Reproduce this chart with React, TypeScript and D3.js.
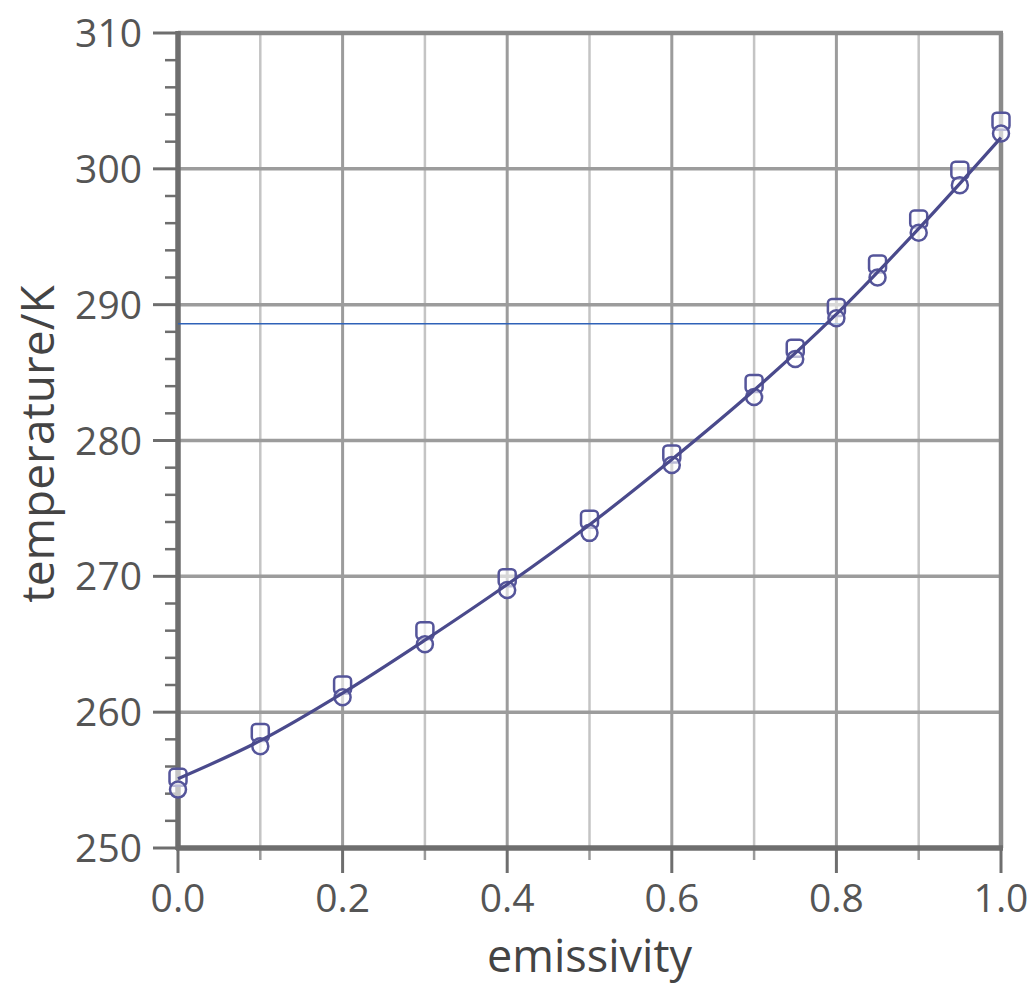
import * as d3 from "d3";

// emissivity values at which the two marker series were sampled
const EMISSIVITY = [0, 0.1, 0.2, 0.3, 0.4, 0.5, 0.6, 0.7, 0.75, 0.8, 0.85, 0.9, 0.95, 1.0];
// upper markers (squares) and lower markers (circles), K
const SQUARE_T = [255.2, 258.5, 262.0, 266.0, 269.9, 274.2, 279.0, 284.2, 286.8, 289.8, 293.0, 296.3, 299.9, 303.5];
const CIRCLE_T = [254.3, 257.5, 261.1, 265.0, 269.0, 273.2, 278.2, 283.2, 286.0, 289.0, 292.0, 295.3, 298.8, 302.6];
// fitted curve
const CURVE_E = [0, 0.1, 0.2, 0.3, 0.4, 0.5, 0.6, 0.7, 0.8, 0.9, 1.0];
const CURVE_T = [255.1, 257.9, 261.4, 265.3, 269.4, 273.8, 278.6, 283.7, 289.3, 295.6, 302.3];
// thin blue reference line
const REF_T = 288.6;
const REF_E_END = 0.805;

const X_MAJOR = [0, 0.2, 0.4, 0.6, 0.8, 1.0];
const X_MINOR = [0.1, 0.3, 0.5, 0.7, 0.9];
const Y_MAJOR = [250, 260, 270, 280, 290, 300, 310];

const W = 1036;
const H = 985;
const M = { left: 178, right: 1001, top: 33, bottom: 848 };

const FONT = "'Open Sans', 'DejaVu Sans', sans-serif";
const GRID = "#9c9c9c";
const GRID_LIGHT = "#c4c4c4";
const AXIS = "#6e6e6e";
const MARK = "#55559a";

export default function App() {
  const x = d3.scaleLinear().domain([0, 1]).range([M.left, M.right]);
  const y = d3.scaleLinear().domain([250, 310]).range([M.bottom, M.top]);
  const yMinor = d3.range(252, 310, 2).filter((v) => v % 10 !== 0);

  const line = d3
    .line<number>()
    .x((_, i) => x(CURVE_E[i]))
    .y((d) => y(d))
    .curve(d3.curveCatmullRom.alpha(0.5));

  const sq = 17;
  const r = 8;

  return (
    <svg
      width={W}
      height={H}
      style={{ position: "absolute", left: 0, top: 0, background: "#fff" }}
      fontFamily={FONT}
    >
      {/* vertical grid */}
      {X_MINOR.map((v) => (
        <line key={"vm" + v} x1={x(v)} x2={x(v)} y1={M.top} y2={M.bottom} stroke={GRID_LIGHT} strokeWidth={2.5} />
      ))}
      {X_MAJOR.slice(1, -1).map((v) => (
        <line key={"vM" + v} x1={x(v)} x2={x(v)} y1={M.top} y2={M.bottom} stroke={GRID} strokeWidth={3} />
      ))}
      {/* horizontal grid */}
      {Y_MAJOR.slice(1, -1).map((v) => (
        <line key={"h" + v} x1={M.left} x2={M.right} y1={y(v)} y2={y(v)} stroke={GRID} strokeWidth={3.5} />
      ))}
      {/* frame top & right */}
      <line x1={M.left} x2={M.right + 2} y1={M.top} y2={M.top} stroke="#8a8a8a" strokeWidth={4.5} />
      <line x1={M.right} x2={M.right} y1={M.top} y2={M.bottom} stroke="#8a8a8a" strokeWidth={4.5} />

      {/* y ticks */}
      {Y_MAJOR.map((v) => (
        <line key={"yt" + v} x1={M.left - 25} x2={M.left} y1={y(v)} y2={y(v)} stroke={AXIS} strokeWidth={3} />
      ))}
      {yMinor.map((v) => (
        <line key={"ym" + v} x1={M.left - 13} x2={M.left} y1={y(v)} y2={y(v)} stroke={AXIS} strokeWidth={2.5} />
      ))}
      {/* x ticks */}
      {X_MAJOR.map((v) => (
        <line key={"xt" + v} x1={x(v)} x2={x(v)} y1={M.bottom} y2={M.bottom + 25} stroke={AXIS} strokeWidth={3} />
      ))}
      {X_MINOR.map((v) => (
        <line key={"xm" + v} x1={x(v)} x2={x(v)} y1={M.bottom} y2={M.bottom + 12} stroke="#9a9a9a" strokeWidth={2.5} />
      ))}

      {/* axes */}
      <line x1={M.left} x2={M.left} y1={M.top - 2} y2={M.bottom + 2} stroke={AXIS} strokeWidth={5.5} />
      <line x1={M.left - 2} x2={M.right + 2} y1={M.bottom} y2={M.bottom} stroke={AXIS} strokeWidth={5.5} />

      {/* tick labels */}
      {Y_MAJOR.map((v) => (
        <text key={"yl" + v} x={M.left - 36} y={y(v)} dy="0.36em" textAnchor="end" fontSize={39} fill="#555">
          {v}
        </text>
      ))}
      {X_MAJOR.map((v) => (
        <text key={"xl" + v} x={x(v)} y={912} textAnchor="middle" fontSize={39} fill="#555">
          {v.toFixed(1)}
        </text>
      ))}

      {/* axis titles */}
      <text x={(M.left + M.right) / 2} y={972} textAnchor="middle" fontSize={45} fill="#444">
        emissivity
      </text>
      <text
        transform={`translate(54,${444}) rotate(-90)`}
        textAnchor="middle"
        fontSize={46}
        fill="#444"
      >
        temperature/K
      </text>

      {/* reference line */}
      <line x1={x(0)} x2={x(REF_E_END)} y1={y(REF_T)} y2={y(REF_T)} stroke="#2f62b8" strokeWidth={1.5} />

      {/* markers */}
      {EMISSIVITY.map((e, i) => (
        <g key={"m" + e} fill="rgba(255,255,255,0.6)" stroke={MARK} strokeWidth={2.5}>
          <rect x={x(e) - sq / 2} y={y(SQUARE_T[i]) - sq / 2} width={sq} height={sq} rx={4} />
          <circle cx={x(e)} cy={y(CIRCLE_T[i])} r={r} />
        </g>
      ))}

      {/* fitted curve */}
      <path d={line(CURVE_T) ?? ""} fill="none" stroke="#4a4a8c" strokeWidth={3.2} />
    </svg>
  );
}
